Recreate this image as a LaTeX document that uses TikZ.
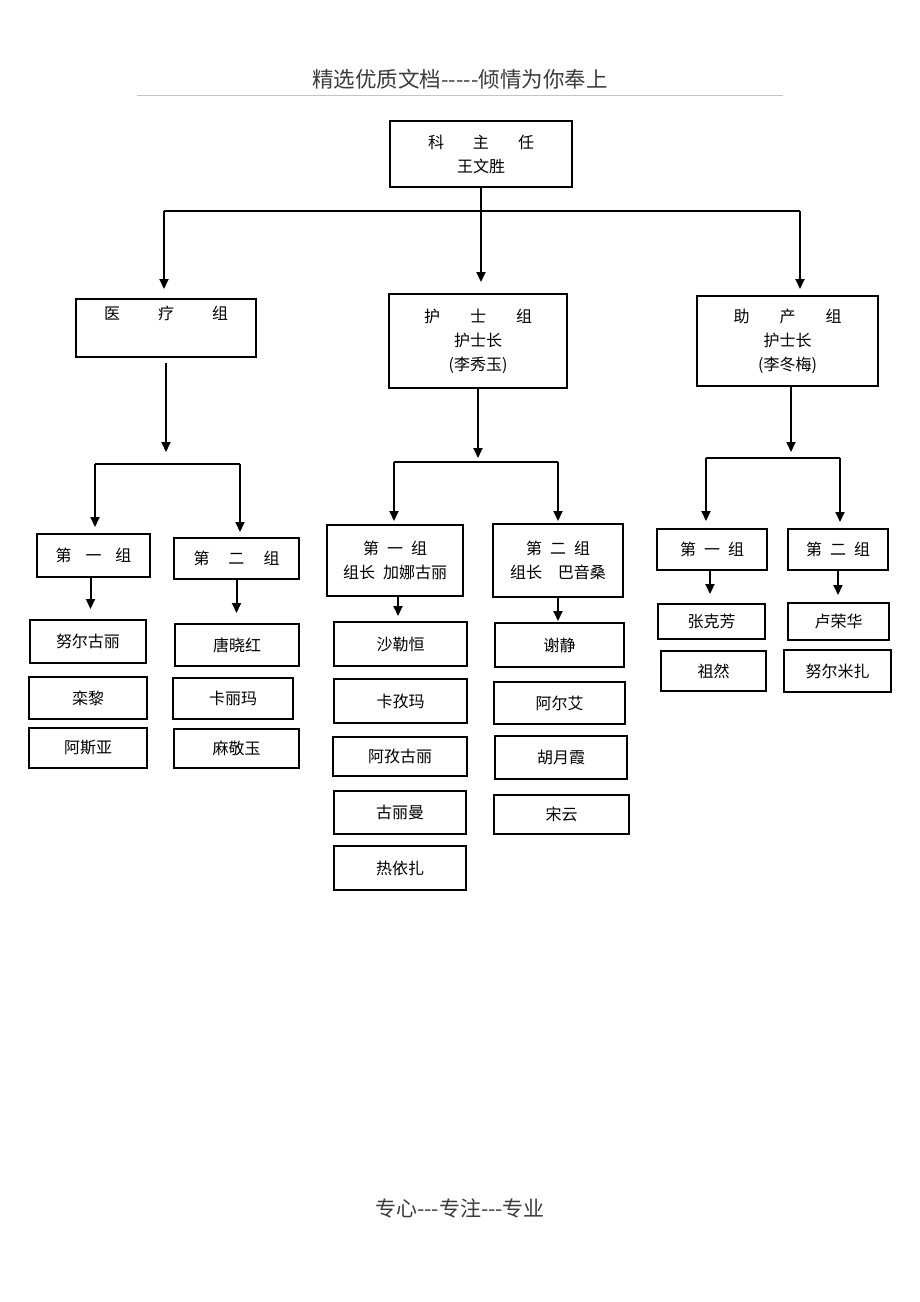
\documentclass[tikz,border=0pt]{standalone}
\usepackage{fontspec}
\setmainfont{Noto Sans CJK SC}
\usetikzlibrary{arrows.meta}
\definecolor{rulegray}{RGB}{200,190,215}
\definecolor{headgray}{RGB}{60,60,60}

\tikzset{
  box/.style={draw, line width=2pt, inner sep=0pt, align=center, font=\fontsize{16}{24}\selectfont},
  arr/.style={line width=2pt, -{Triangle[length=10pt,width=9pt]}},
  bar/.style={line width=2pt},
}

\begin{document}
\begin{tikzpicture}[x=1pt, y=-1pt]
\fill[white] (0,0) rectangle (920,1302);
\useasboundingbox (0,0) rectangle (920,1302);

% header and footer
\node[font=\fontsize{21.5}{24}\selectfont, text=headgray] (head) at (460,79) {精选优质文档-{}-{}-{}-{}-倾情为你奉上};
\draw[rulegray, line width=0.8pt] (137,95) -- (783,95);
\node[font=\fontsize{21}{24}\selectfont, text=headgray] (foot) at (460,1208) {专心-{}-{}-专注-{}-{}-专业};

% top
\node[box, minimum width=182pt, minimum height=66pt] (ke) at (481,154) {科\hspace{29pt}主\hspace{29pt}任\\王文胜};

\node[box, minimum width=180pt, minimum height=58pt] (yiliao) at (166,328) {医\hspace{38pt}疗\hspace{38pt}组\\ \strut};
\node[box, minimum width=178pt, minimum height=94pt] (hushi) at (478,341) {护\hspace{30pt}士\hspace{30pt}组\\护士长\\(李秀玉)};
\node[box, minimum width=181pt, minimum height=90pt] (zhuchan) at (787.5,341) {助\hspace{30pt}产\hspace{30pt}组\\护士长\\(李冬梅)};

\coordinate (topL) at (164,211);
\coordinate (topR) at (800,211);
\draw[bar] (topL) -- (topR);
\draw[arr, shorten >=11pt] (ke.south) -- (ke.south |- hushi.north);
\draw[arr, shorten >=9pt] (topL) -- (topL |- yiliao.north);
\draw[arr, shorten >=6pt] (topR) -- (topR |- zhuchan.north);

% yiliao branch
\node[box, minimum width=113pt, minimum height=43pt] (lg1) at (93.5,555.5) {第\hspace{14pt}一\hspace{14pt}组};
\node[box, minimum width=125pt, minimum height=41pt] (lg2) at (236.5,558.5) {第\hspace{19pt}二\hspace{19pt}组};
\coordinate (lbarL) at (95,464);
\coordinate (lbarR) at (240,464);
\draw[arr, shorten <=5pt, shorten >=12pt] (yiliao.south) -- (yiliao.south |- lbarL);
\draw[bar] (lbarL) -- (lbarR);
\draw[arr, shorten >=6pt] (lbarL) -- (lbarL |- lg1.north);
\draw[arr, shorten >=5pt] (lbarR) -- (lbarR |- lg2.north);

\node[box, minimum width=116pt, minimum height=43pt] (l1a) at (88,641.5) {努尔古丽};
\node[box, minimum width=118pt, minimum height=42pt] (l1b) at (88,698) {栾黎};
\node[box, minimum width=118pt, minimum height=40pt] (l1c) at (88,748) {阿斯亚};
\node[box, minimum width=124pt, minimum height=42pt] (l2a) at (237,645) {唐晓红};
\node[box, minimum width=120pt, minimum height=41pt] (l2b) at (233,698.5) {卡丽玛};
\node[box, minimum width=125pt, minimum height=39pt] (l2c) at (236.5,748.5) {麻敬玉};
\draw[arr, shorten >=10pt] ([xshift=-3pt]lg1.south) -- ([xshift=-3pt]lg1.south |- l1a.north);
\draw[arr, shorten >=10pt] (lg2.south) -- (lg2.south |- l2a.north);

% hushi branch
\node[box, minimum width=136pt, minimum height=71pt] (mg1) at (395,560.5) {第\hspace{8pt}一\hspace{8pt}组\\组长\hspace{8pt}加娜古丽};
\node[box, minimum width=130pt, minimum height=73pt] (mg2) at (558,560.5) {第\hspace{8pt}二\hspace{8pt}组\\组长\hspace{16pt}巴音桑};
\coordinate (mbarL) at (394,462);
\coordinate (mbarR) at (558,462);
\draw[arr, shorten >=4pt] (hushi.south) -- (hushi.south |- mbarL);
\draw[bar] (mbarL) -- (mbarR);
\draw[arr, shorten >=3pt] (mbarL) -- (mbarL |- mg1.north);
\draw[arr, shorten >=2pt] (mbarR) -- (mbarR |- mg2.north);

\node[box, minimum width=133pt, minimum height=44pt] (m1a) at (400.5,644) {沙勒恒};
\node[box, minimum width=133pt, minimum height=44pt] (m1b) at (400.5,701) {卡孜玛};
\node[box, minimum width=134pt, minimum height=39pt] (m1c) at (400,756.5) {阿孜古丽};
\node[box, minimum width=132pt, minimum height=43pt] (m1d) at (400,812.5) {古丽曼};
\node[box, minimum width=132pt, minimum height=44pt] (m1e) at (400,868) {热依扎};
\node[box, minimum width=129pt, minimum height=44pt] (m2a) at (559.5,645) {谢静};
\node[box, minimum width=131pt, minimum height=42pt] (m2b) at (559.5,703) {阿尔艾};
\node[box, minimum width=132pt, minimum height=43pt] (m2c) at (561,757.5) {胡月霞};
\node[box, minimum width=135pt, minimum height=39pt] (m2d) at (561.5,814.5) {宋云};
\draw[arr, shorten >=5pt] ([xshift=3pt]mg1.south) -- ([xshift=3pt]mg1.south |- m1a.north);
\draw[arr, shorten >=1pt] (mg2.south) -- (mg2.south |- m2a.north);

% zhuchan branch
\node[box, minimum width=110pt, minimum height=41pt] (rg1) at (712,549.5) {第\hspace{8pt}一\hspace{8pt}组};
\node[box, minimum width=100pt, minimum height=41pt] (rg2) at (838,549.5) {第\hspace{8pt}二\hspace{8pt}组};
\coordinate (rbarL) at (706,458);
\coordinate (rbarR) at (840,458);
\draw[arr, shorten >=6pt] ([xshift=3.5pt]zhuchan.south) -- ([xshift=3.5pt]zhuchan.south |- rbarL);
\draw[bar] (rbarL) -- (rbarR);
\draw[arr, shorten >=7pt] (rbarL) -- (rbarL |- rg1.north);
\draw[arr, shorten >=6pt] (rbarR) -- (rbarR |- rg2.north);

\node[box, minimum width=107pt, minimum height=35pt] (r1a) at (711.5,621.5) {张克芳};
\node[box, minimum width=105pt, minimum height=40pt] (r1b) at (713.5,671) {祖然};
\node[box, minimum width=101pt, minimum height=37pt] (r2a) at (838.5,621.5) {卢荣华};
\node[box, minimum width=107pt, minimum height=42pt] (r2b) at (837.5,671) {努尔米扎};
\draw[arr, shorten >=9pt] ([xshift=-2pt]rg1.south) -- ([xshift=-2pt]rg1.south |- r1a.north);
\draw[arr, shorten >=7pt] (rg2.south) -- (rg2.south |- r2a.north);

\end{tikzpicture}
\end{document}
